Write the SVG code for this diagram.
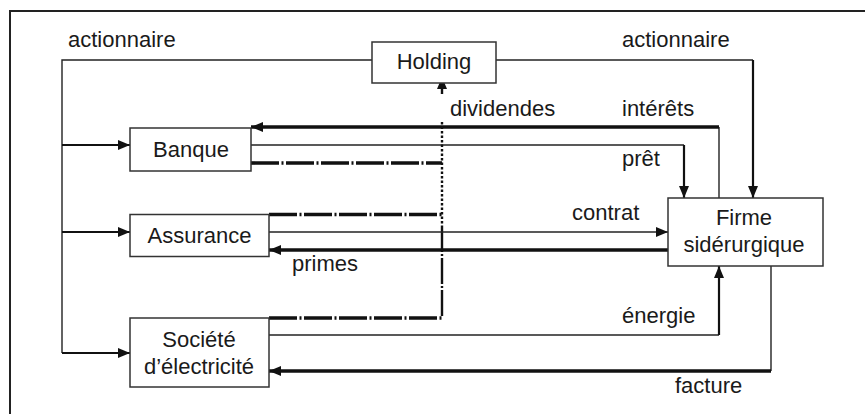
<svg xmlns="http://www.w3.org/2000/svg" width="865" height="414" viewBox="0 0 865 414">
<style>
text{font-family:"Liberation Sans",Arial,sans-serif;font-size:22px;fill:#1a1a1a}
.c{text-anchor:middle}
.box{fill:#fff;stroke:#333;stroke-width:1.5}
.thin{fill:none;stroke:#222;stroke-width:1.4}
.med{fill:none;stroke:#111;stroke-width:2.2}
.thick{fill:none;stroke:#111;stroke-width:3.6}
.dd{fill:none;stroke:#111;stroke-width:3.6;stroke-dasharray:28 2.5 2 2.5}
.dot{fill:none;stroke:#111;stroke-width:2.4;stroke-dasharray:2.5 2}
.ddv{fill:none;stroke:#111;stroke-width:2.4;stroke-dasharray:26 2 2 2}
</style>
<defs>
<marker id="ah" viewBox="0 0 12 10" refX="12" refY="5" markerWidth="12" markerHeight="10" markerUnits="userSpaceOnUse" orient="auto">
<path d="M0,0 L12,5 L0,10 z" fill="#111"/>
</marker>
</defs>
<path d="M10,430 V11 H875" fill="none" stroke="#222" stroke-width="2"/>
<g id="connectors">
<path class="thin" d="M372,60 H62 V353"/>
<path class="med" d="M62,145 H130" marker-end="url(#ah)"/>
<path class="med" d="M62,232 H130" marker-end="url(#ah)"/>
<path class="med" d="M62,353 H130" marker-end="url(#ah)"/>
<path class="thin" d="M496,60 H753"/>
<path class="med" d="M753,60 V198" marker-end="url(#ah)"/>
<path class="thin" d="M719,198 V127"/>
<path class="thick" d="M719,127 H251" marker-end="url(#ah)"/>
<path class="thin" d="M251,145 H684"/>
<path class="med" d="M684,145 V198" marker-end="url(#ah)"/>
<path class="dd" d="M251,163 H442"/>
<path class="dd" d="M269,214.5 H442"/>
<path class="dd" d="M269,318 H442"/>
<path class="dot" d="M442,122 V226"/>
<path class="ddv" d="M442,226 V318"/>
<path d="M442,89 V94" stroke="#111" stroke-width="2.4"/>
<polygon points="442,77 437,89 447,89" fill="#111"/>
<path class="thin" d="M269,232 H668" marker-end="url(#ah)"/>
<path class="thick" d="M668,250 H269" marker-end="url(#ah)"/>
<path class="thin" d="M269,335 H719"/>
<path class="med" d="M719,335 V266" marker-end="url(#ah)"/>
<path class="thin" d="M771,266 V371"/>
<path class="thick" d="M771,371 H269" marker-end="url(#ah)"/>
</g>
<g id="holding"><rect class="box" x="372" y="42" width="124" height="41"/><text class="c" x="434" y="69">Holding</text></g>
<g id="banque"><rect class="box" x="130" y="128" width="121" height="43"/><text class="c" x="191" y="157">Banque</text></g>
<g id="assurance"><rect class="box" x="130" y="214.5" width="139" height="42"/><text class="c" x="199.5" y="242.5">Assurance</text></g>
<g id="societe"><rect class="box" x="130" y="318" width="139" height="69"/><text class="c" x="199" y="347">Société</text><text class="c" x="199" y="373.5">d’électricité</text></g>
<g id="firme"><rect class="box" x="668" y="198" width="155" height="68"/><text class="c" x="744" y="225">Firme</text><text class="c" x="744" y="252">sidérurgique</text></g>
<g id="labels">
<text x="68" y="47">actionnaire</text>
<text x="622" y="47">actionnaire</text>
<text x="450" y="116">dividendes</text>
<text x="622" y="116">intérêts</text>
<text x="622" y="166">prêt</text>
<text x="572" y="220">contrat</text>
<text x="292" y="271">primes</text>
<text x="622" y="323">énergie</text>
<text x="675" y="393">facture</text>
</g>
</svg>
